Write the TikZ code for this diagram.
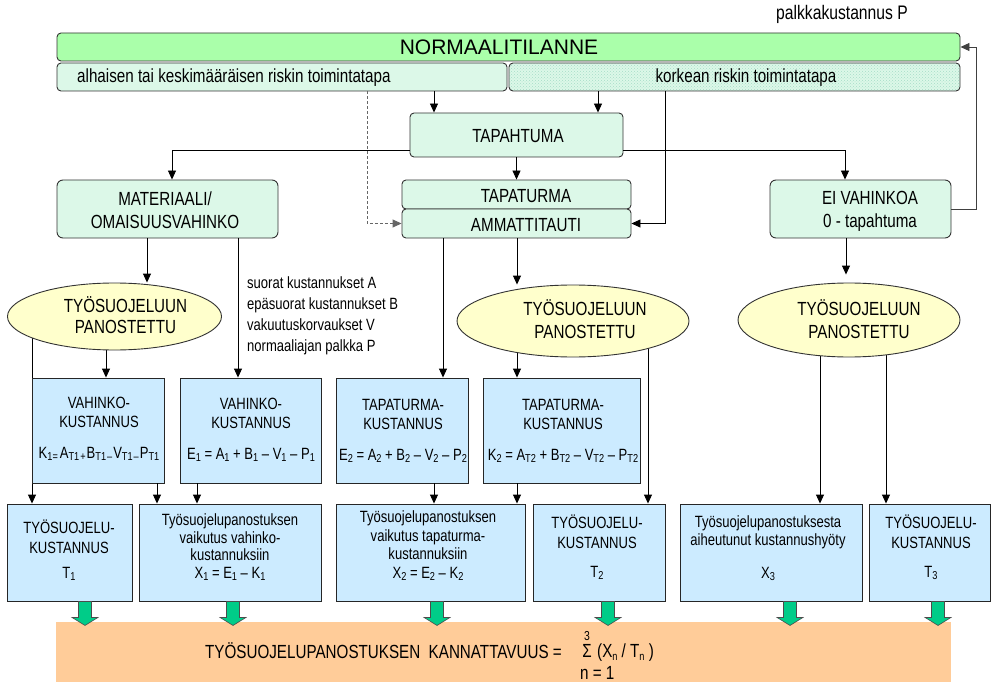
\documentclass[tikz,border=0pt]{standalone}
\usepackage{fontspec}
\setmainfont{Liberation Sans}[FakeStretch=0.8]
\newfontfamily\widefont{Liberation Sans}
\usetikzlibrary{arrows.meta,shapes.geometric,patterns,fit}
\pgfdeclarelayer{background}
\pgfsetlayers{background,main}

\definecolor{normgreen}{HTML}{AAFFAA}
\definecolor{mint}{HTML}{DCF8E8}
\definecolor{dotteal}{HTML}{A6DCC8}
\definecolor{paleyellow}{HTML}{FFFFCC}
\definecolor{skyblue}{HTML}{CCEBFF}
\definecolor{peach}{HTML}{FFCC99}
\definecolor{jade}{HTML}{00CC88}
\definecolor{edge}{HTML}{333333}
\definecolor{dashgray}{HTML}{666666}

\newcommand\bigtxt{\fontsize{19}{23}\selectfont}
\newcommand\smalltxt{\fontsize{16.3}{19}\selectfont}
\newcommand\lowsub[1]{\raisebox{-0.3ex}{\fontsize{11.5}{11.5}\selectfont #1}}
% downward block arrow from a box into the summary bar
\newcommand\greenarrow[1]{\path[garrow] (#1) ++(-6.5,0) -- ++(13,0) -- ++(0,16)
  -- ++(6.5,0) -- ++(-13,8) -- ++(-13,-8) -- ++(6.5,0) -- cycle;}

\begin{document}
\begin{tikzpicture}[x=1pt,y=-1pt,
  roundbox/.style={draw=edge, fill=mint, rounded corners=4pt, line width=0.9pt, inner sep=0pt},
  bluebox/.style={draw=black!85, fill=skyblue, line width=0.9pt, inner sep=0pt},
  oval/.style={ellipse, draw=edge, fill=paleyellow, line width=0.9pt, inner sep=0pt},
  arr/.style={line width=0.9pt, -{Triangle[length=9pt,width=8pt]}},
  lbl/.style={inner sep=0pt, font=\bigtxt, align=center, anchor=base},
  slbl/.style={inner sep=0pt, font=\smalltxt, align=center, anchor=base},
  garrow/.style={fill=jade, draw=black!70, line width=0.6pt, line join=miter}]
\useasboundingbox (0,0) rectangle (991,682);

% x and y guides for the connectors
\coordinate (gLowTap) at (434,0);
\coordinate (gHighTap) at (598,0);
\coordinate (ySide) at (0,150);
\coordinate (gMat) at (172,0);
\coordinate (gEi) at (845,0);
\coordinate (gDash) at (367,0);
\coordinate (gHigh) at (665,0);
\coordinate (gFb) at (976,0);
\coordinate (gMatE) at (147,0);
\coordinate (gMatB) at (238,0);
\coordinate (gAmmB) at (443,0);
\coordinate (gAmmE) at (517,0);
\coordinate (gEiE) at (846,0);
\coordinate (gE1T) at (32,0);
\coordinate (gE1K) at (106,0);
\coordinate (gK1X) at (157,0);
\coordinate (gE1bX) at (197,0);
\coordinate (gE2bX) at (434,0);
\coordinate (gE2K) at (517,0);
\coordinate (gK2X) at (517,0);
\coordinate (gE2T) at (648,0);
\coordinate (gE3X) at (820,0);
\coordinate (gE3T) at (886,0);
\coordinate (gG1) at (85,0);
\coordinate (gG2) at (233,0);
\coordinate (gG3) at (437,0);
\coordinate (gG4) at (608,0);
\coordinate (gG5) at (790,0);
\coordinate (gG6) at (938,0);

% top bar and working practices
\node[roundbox, fill=normgreen, fit={(57,33) (960,61)}] (norm) {};
\node[lbl, font=\widefont\fontsize{21}{25}\selectfont] (normTxt) at (499,55) {NORMAALITILANNE};
\node[roundbox, fit={(57,63) (507,91)}] (low) {};
\node[lbl, anchor=base west] (lowTxt) at (77,83) {alhaisen tai keskimääräisen riskin toimintatapa};
\node[roundbox, preaction={fill=mint}, pattern=crosshatch dots, pattern color=dotteal, fit={(509,63) (960,91)}] (high) {};
\node[lbl] (highTxt) at (746,83) {korkean riskin toimintatapa};
\node[lbl, anchor=base west, font=\fontsize{19.6}{22}\selectfont] (payTxt) at (776,20) {palkkakustannus P};

% event level
\node[roundbox, fit={(410,113) (623,157)}] (tap) {};
\node[lbl] (tapTxt) at (518,143) {TAPAHTUMA};
\node[roundbox, rounded corners=6pt, fit={(57,180) (278,238)}] (mat) {};
\node[lbl] (matTxt) at (165,228) {MATERIAALI/\\OMAISUUSVAHINKO};
\node[roundbox, fit={(402,180) (631,209)}] (tpt) {};
\node[lbl] (tptTxt) at (526,202) {TAPATURMA};
\node[roundbox, fit={(402,209) (631,238)}] (amm) {};
\node[lbl] (ammTxt) at (526,231) {AMMATTITAUTI};
\node[roundbox, rounded corners=6pt, fit={(770,180) (951,238)}] (ei) {};
\node[lbl] (eiTxt) at (870,227) {EI VAHINKOA\\0 - tapahtuma};

% investment ellipses
\node[oval, minimum width=214pt, minimum height=67pt] (e1) at (114.5,316.5) {};
\node[lbl, font=\fontsize{19}{21}\selectfont] (e1Txt) at (125.5,333) {TYÖSUOJELUUN\\PANOSTETTU};
\node[oval, minimum width=232pt, minimum height=72pt] (e2) at (573,321) {};
\node[lbl, font=\fontsize{19}{23}\selectfont] (e2Txt) at (585,338) {TYÖSUOJELUUN\\PANOSTETTU};
\node[oval, minimum width=222pt, minimum height=74pt] (e3) at (849,320) {};
\node[lbl, font=\fontsize{19}{23}\selectfont] (e3Txt) at (859,338) {TYÖSUOJELUUN\\PANOSTETTU};

\node[slbl, anchor=base west, align=left, font=\fontsize{16.3}{20.7}\selectfont] (costTxt) at (247,351)
  {suorat kustannukset A\\epäsuorat kustannukset B\\vakuutuskorvaukset V\\normaaliajan palkka P};

% cost boxes
\node[bluebox, fit={(32,378) (164,483)}] (k1) {};
\node[slbl] (k1Txt) at (99,458) {VAHINKO-\\KUSTANNUS\\[12pt]K\lowsub{1=}\hspace{2pt}A\lowsub{T1}\hspace{1pt}\lowsub{+}\hspace{1pt}B\lowsub{T1}\hspace{1pt}\lowsub{–}\hspace{1pt}V\lowsub{T1}\hspace{1pt}\lowsub{–}\hspace{1pt}P\lowsub{T1}};
\node[bluebox, fit={(180,378) (321,483)}] (e1b) {};
\node[slbl] (e1bTxt) at (251,459) {VAHINKO-\\KUSTANNUS\\[12pt]E\lowsub{1} = A\lowsub{1} + B\lowsub{1} – V\lowsub{1} – P\lowsub{1}};
\node[bluebox, fit={(336,378) (468,483)}] (e2b) {};
\node[slbl] (e2bTxt) at (403,460) {TAPATURMA-\\KUSTANNUS\\[12pt]E\lowsub{2} = A\lowsub{2} + B\lowsub{2} – V\lowsub{2} – P\lowsub{2}};
\node[bluebox, fit={(483,378) (640,483)}] (k2) {};
\node[slbl] (k2Txt) at (563,460) {TAPATURMA-\\KUSTANNUS\\[12pt]K\lowsub{2} = A\lowsub{T2} + B\lowsub{T2} – V\lowsub{T2} – P\lowsub{T2}};

% result boxes
\node[bluebox, fit={(7,504) (132,601)}] (t1) {};
\node[slbl, font=\fontsize{16.3}{20}\selectfont] (t1Txt) at (69,578) {TYÖSUOJELU-\\KUSTANNUS\\[5pt]T\lowsub{1}};
\node[bluebox, fit={(139,504) (321,601)}] (x1) {};
\node[slbl, font=\fontsize{16.3}{17.5}\selectfont] (x1Txt) at (230,578) {Työsuojelupanostuksen\\vaikutus vahinko-\\kustannuksiin\\X\lowsub{1} = E\lowsub{1} – K\lowsub{1}};
\node[bluebox, fit={(336,504) (525,601)}] (x2) {};
\node[slbl, font=\fontsize{16.3}{18.5}\selectfont] (x2Txt) at (428,578) {Työsuojelupanostuksen\\vaikutus tapaturma-\\kustannuksiin\\X\lowsub{2} = E\lowsub{2} – K\lowsub{2}};
\node[bluebox, fit={(533,504) (665,601)}] (t2) {};
\node[slbl, font=\fontsize{16.3}{20}\selectfont] (t2Txt) at (597,577) {TYÖSUOJELU-\\KUSTANNUS\\[9pt]T\lowsub{2}};
\node[bluebox, fit={(680,504) (862,601)}] (x3) {};
\node[slbl, font=\fontsize{16.3}{18}\selectfont] (x3Txt) at (768,578) {Työsuojelupanostuksesta\\aiheutunut kustannushyöty\\[15pt]X\lowsub{3}};
\node[bluebox, fit={(869,504) (990,601)}] (t3) {};
\node[slbl, font=\fontsize{16.3}{20}\selectfont] (t3Txt) at (931,577) {TYÖSUOJELU-\\KUSTANNUS\\[9pt]T\lowsub{3}};

% summary bar
\node[fill=peach, inner sep=0pt, fit={(56,622) (951,682)}] (sumbox) {};
\node[lbl, anchor=base west] (sumTxt) at (205,658) {TYÖSUOJELUPANOSTUKSEN\ \ KANNATTAVUUS =};
\node[lbl] (sigma) at (587,657) {Σ};
\node[slbl, font=\fontsize{13}{13}\selectfont] (sigTop) at (587,640) {3};
\node[lbl, anchor=base west] (sigBody) at (597,657) {(X\lowsub{n} / T\lowsub{n} )};
\node[lbl, anchor=base west] (sigBot) at (580,679) {n = 1};

% flow connectors
\draw[arr] (low.south -| gLowTap) -- (tap.north -| gLowTap);
\draw[arr] (high.south -| gHighTap) -- (tap.north -| gHighTap);
\draw[arr] (tap.west |- ySide) -| (mat.north -| gMat);
\draw[arr] (tap.east |- ySide) -| (ei.north -| gEi);
\draw[arr] (tap.south) -- (tpt.north -| tap.south);
\draw[arr, draw=dashgray, dash pattern=on 3pt off 2pt] (low.south -| gDash) |- (amm.west);
\draw[arr] (high.south -| gHigh) |- (amm.east);
\draw[arr, draw=black!75] (ei.east) -| (gFb |- norm.east) -- (norm.east);

\draw[arr] (mat.south -| gMatE) -- (e1.north -| gMatE);
\draw[arr] (mat.south -| gMatB) -- (e1b.north -| gMatB);
\draw[arr] (amm.south -| gAmmB) -- (e2b.north -| gAmmB);
\draw[arr] (amm.south -| gAmmE) -- (e2.north -| gAmmE);
\draw[arr, shorten >=8pt] (ei.south -| gEiE) -- (e3.north -| gEiE);

\begin{pgfonlayer}{background}
\draw[arr] (e1.center -| gE1T) -- (t1.north -| gE1T);
\draw[arr] (e1.center -| gE1K) -- (k1.north -| gE1K);
\draw[arr] (e2.center -| gE2K) -- (k2.north -| gE2K);
\draw[arr] (e2.center -| gE2T) -- (t2.north -| gE2T);
\draw[arr] (e3.center -| gE3X) -- (x3.north -| gE3X);
\draw[arr] (e3.center -| gE3T) -- (t3.north -| gE3T);
\end{pgfonlayer}

\draw[arr] (k1.south -| gK1X) -- (x1.north -| gK1X);
\draw[arr] (e1b.south -| gE1bX) -- (x1.north -| gE1bX);
\draw[arr] (e2b.south -| gE2bX) -- (x2.north -| gE2bX);
\draw[arr] (k2.south -| gK2X) -- (x2.north -| gK2X);

% block arrows into the summary bar
\greenarrow{t1.south -| gG1}
\greenarrow{x1.south -| gG2}
\greenarrow{x2.south -| gG3}
\greenarrow{t2.south -| gG4}
\greenarrow{x3.south -| gG5}
\greenarrow{t3.south -| gG6}
\end{tikzpicture}
\end{document}
